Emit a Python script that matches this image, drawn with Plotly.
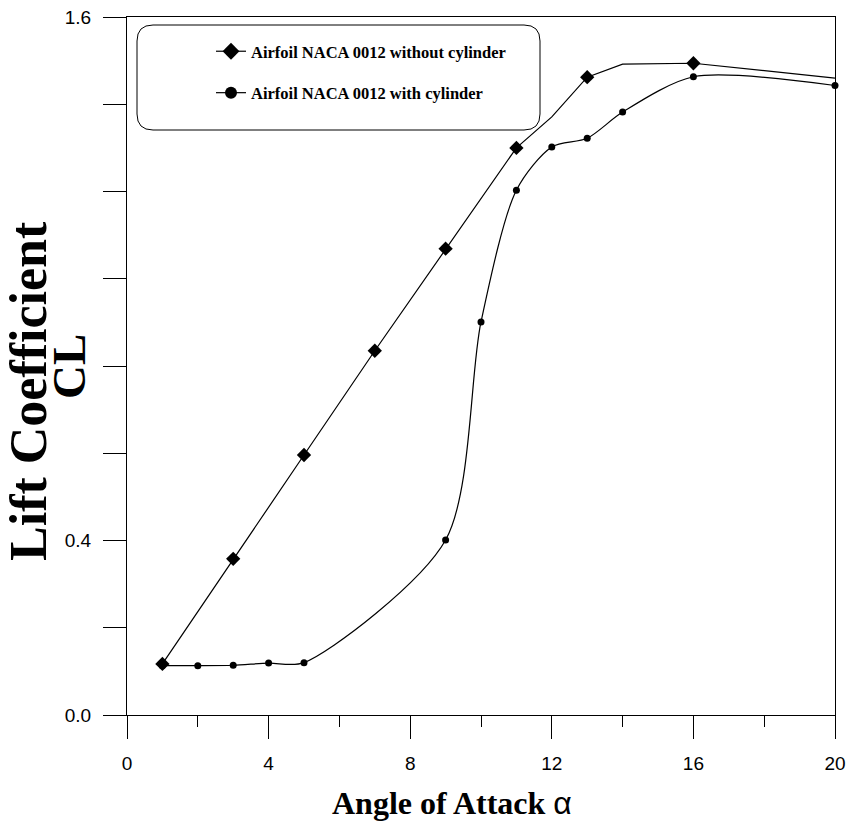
import plotly.graph_objects as go

# ---------------- data ----------------
aoa_without = [1, 3, 5, 7, 9, 11, 12, 13, 14, 16, 20]
cl_without = [0.117, 0.358, 0.596, 0.835, 1.069, 1.300, 1.371, 1.462, 1.492, 1.494, 1.460]
marked_without = [1, 3, 5, 7, 9, 11, 13, 16]

aoa_with = [1, 2, 3, 4, 5, 9, 10, 11, 12, 13, 14, 16, 20]
cl_with = [0.113, 0.113, 0.114, 0.119, 0.120, 0.401, 0.901, 1.203, 1.302, 1.322, 1.382, 1.463, 1.443]

label_without = "Airfoil NACA 0012 without cylinder"
label_with = "Airfoil NACA 0012 with cylinder"

y_tickvals = [0.0, 0.2, 0.4, 0.6, 0.8, 1.0, 1.2, 1.4, 1.6]
y_ticktext = ["0.0", "", "0.4", "", "", "", "", "", "1.6"]
x_tickvals = [0, 4, 8, 12, 16, 20]

x_title = "Angle of Attack"
y_title_1 = "Lift Coefficient"
y_title_2 = "CL"

# ---------------- figure ----------------
W, H = 850, 823
ML, MR, MT, MB = 127, 15, 17, 108
PW, PH = W - ML - MR, H - MT - MB


def px_x(p):
    return (p - ML) / PW


def px_y(p):
    return (H - MB - p) / PH


fig = go.Figure()

fig.add_trace(go.Scatter(
    x=aoa_without, y=cl_without, mode="lines+markers",
    line=dict(color="black", width=1.2),
    marker=dict(symbol="diamond", color="black", opacity=1,
                size=[11 if a in marked_without else 0 for a in aoa_without],
                line=dict(width=0)),
    showlegend=False, cliponaxis=False,
))
fig.add_trace(go.Scatter(
    x=aoa_with, y=cl_with, mode="lines+markers",
    line=dict(color="black", width=1.2, shape="spline", smoothing=0.8),
    marker=dict(symbol="circle", color="black", size=7, opacity=1, line=dict(width=0)),
    showlegend=False, cliponaxis=False,
))

# legend entries
fig.add_trace(go.Scatter(
    x=[None], y=[None], mode="lines+markers", name=f"<b>{label_without}</b>",
    line=dict(color="black", width=1.2),
    marker=dict(symbol="diamond", color="black", size=13),
    legendgroup="a",
))
fig.add_trace(go.Scatter(
    x=[None], y=[None], mode="lines+markers", name=f"<b>{label_with}</b>",
    line=dict(color="black", width=1.2),
    marker=dict(symbol="circle", color="black", size=12),
    legendgroup="b",
))

# rounded legend box (pixel geometry -> paper coords)
bx0, bx1, by0, by1, r = 137, 540, 25, 130, 16
rx, ry = r / PW, r / PH
x0, x1, y0, y1 = px_x(bx0), px_x(bx1), px_y(by1), px_y(by0)
path = (f"M{x0 + rx},{y0} L{x1 - rx},{y0} Q{x1},{y0} {x1},{y0 + ry} "
        f"L{x1},{y1 - ry} Q{x1},{y1} {x1 - rx},{y1} L{x0 + rx},{y1} "
        f"Q{x0},{y1} {x0},{y1 - ry} L{x0},{y0 + ry} Q{x0},{y0} {x0 + rx},{y0} Z")
fig.add_shape(type="path", path=path, xref="paper", yref="paper",
              line=dict(color="black", width=1), fillcolor="rgba(0,0,0,0)")

serif = "Liberation Serif, Times New Roman, serif"

# axis titles
fig.add_annotation(
    text=f"<b>{x_title} </b><span style='font-family:Liberation Sans, Arial'>α</span>",
    xref="paper", yref="paper", x=px_x(452), y=px_y(803),
    xanchor="center", yanchor="middle", showarrow=False,
    font=dict(family=serif, size=32, color="black"),
)
fig.add_annotation(
    text=f"<b>{y_title_1}</b>", textangle=-90,
    xref="paper", yref="paper", x=px_x(28), y=px_y(391),
    xanchor="center", yanchor="middle", showarrow=False,
    font=dict(family=serif, size=52, color="black"),
)
fig.add_annotation(
    text=f"<b>{y_title_2}</b>", textangle=-90,
    xref="paper", yref="paper", x=px_x(69), y=px_y(367),
    xanchor="center", yanchor="middle", showarrow=False,
    font=dict(family=serif, size=47, color="black"),
)

fig.update_layout(
    width=W, height=H,
    margin=dict(l=ML, r=MR, t=MT, b=MB),
    plot_bgcolor="white", paper_bgcolor="white",
    font=dict(family="Liberation Sans, Arial", color="black"),
    legend=dict(
        x=px_x(211), y=px_y(34), xanchor="left", yanchor="top",
        bgcolor="rgba(0,0,0,0)", borderwidth=0,
        font=dict(family=serif, size=16.5, color="black"),
        tracegroupgap=17, traceorder="grouped",
    ),
    xaxis=dict(
        range=[0, 20], tickvals=x_tickvals, ticks="outside", ticklen=23,
        tickwidth=1, tickcolor="black",
        minor=dict(dtick=2, ticklen=11, ticks="outside", tickcolor="black", tickwidth=1),
        showline=True, linecolor="black", linewidth=1, mirror=True,
        showgrid=False, zeroline=False,
        tickfont=dict(size=19, family="Liberation Sans, Arial"),
        ticklabelstandoff=8,
        automargin=False,
    ),
    yaxis=dict(
        range=[0, 1.6], tickvals=y_tickvals, ticktext=y_ticktext,
        ticks="outside", ticklen=23, tickwidth=1, tickcolor="black",
        showline=True, linecolor="black", linewidth=1, mirror=True,
        showgrid=False, zeroline=False,
        tickfont=dict(size=19, family="Liberation Sans, Arial"),
        ticklabelstandoff=8,
        automargin=False,
    ),
)

fig.write_html("out.html")
